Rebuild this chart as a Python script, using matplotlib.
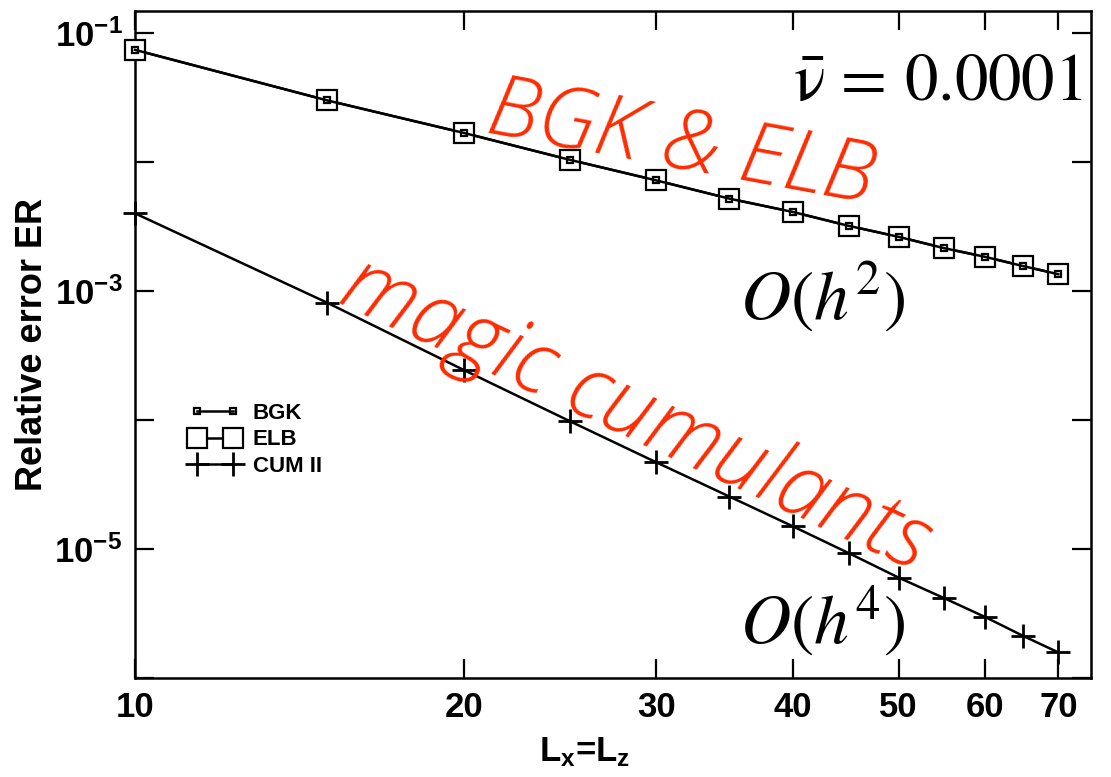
"""
Relative error vs grid size for BGK, ELB and cumulant LBM (log-log).
"""

import matplotlib
matplotlib.use('Agg')
import matplotlib.pyplot as plt

# grid sizes L_x = L_z
grid = [10, 15, 20, 25, 30, 35, 40, 45, 50, 55, 60, 65, 70]

# relative error ER
err_bgk = [0.074, 0.030, 0.0168, 0.0104, 0.0072, 0.0052, 0.0041,
           0.0032, 0.00263, 0.00215, 0.00184, 0.00156, 0.00135]
err_elb = [0.074, 0.030, 0.0168, 0.0104, 0.0072, 0.0052, 0.0041,
           0.0032, 0.00263, 0.00215, 0.00184, 0.00156, 0.00135]
err_cum = [4.0e-3, 8.1e-4, 2.44e-4, 9.8e-5, 4.7e-5, 2.55e-5, 1.5e-5,
           9.3e-6, 6.0e-6, 4.17e-6, 2.97e-6, 2.12e-6, 1.58e-6]

xticks = [10, 20, 30, 40, 50, 60, 70]
yticks = [1e-6, 1e-5, 1e-4, 1e-3, 1e-2, 1e-1]
ytick_labels = ['', r'$10^{-5}$', '', r'$10^{-3}$', '', r'$10^{-1}$']

plt.rcParams['font.family'] = ['Liberation Sans', 'DejaVu Sans']
plt.rcParams['mathtext.fontset'] = 'custom'
plt.rcParams['mathtext.rm'] = 'Liberation Sans:bold'
plt.rcParams['mathtext.bf'] = 'Liberation Sans:bold'
plt.rcParams['mathtext.it'] = 'Liberation Sans:bold:italic'

RED = '#ff2a00'

fig = plt.figure(figsize=(11.11, 7.77), dpi=100)
ax = fig.add_axes([0.1215, 0.1274, 0.8605, 0.8584])

ax.set_xscale('log')
ax.set_yscale('log')

# ELB big white squares under the small BGK squares
ax.plot(grid, err_elb, color='black', lw=1.8, marker='s', ms=14,
        mfc='white', mec='black', mew=1.6, zorder=3, label='ELB',
        clip_on=False)
ax.plot(grid, err_bgk, color='black', lw=1.8, marker='s', ms=4.5,
        mfc='none', mec='black', mew=1.6, zorder=4, label='BGK',
        clip_on=False)
ax.plot(grid, err_cum, color='black', lw=1.8, marker='+', ms=17,
        mew=2.0, zorder=3, label='CUM II', clip_on=False)

ax.set_xlim(10, 75)
ax.set_ylim(1e-6, 0.148)

ax.set_xticks(xticks)
ax.set_xticklabels([str(v) for v in xticks], fontweight='bold')
ax.set_yticks(yticks)
ax.set_yticklabels(ytick_labels)
ax.minorticks_off()
ax.tick_params(which='major', direction='in', length=14, width=1.6,
               top=True, right=True, labelsize=25, pad=9)
for s in ax.spines.values():
    s.set_linewidth(1.8)

ax.set_ylabel('Relative error ER', fontsize=26, fontweight='bold')
ax.yaxis.set_label_coords(-0.089, 0.5)
ax.set_xlabel(r'L$_\mathregular{x}$=L$_\mathregular{z}$', fontsize=25,
              fontweight='bold')
ax.xaxis.set_label_coords(0.47, -0.086)

handles, labels = ax.get_legend_handles_labels()
order = [1, 0, 2]
ax.legend([handles[i] for i in order], [labels[i] for i in order],
          loc='center left', bbox_to_anchor=(0.058, 0.357), frameon=False,
          handlelength=2.2, handletextpad=0.6, labelspacing=0.25,
          borderpad=0, borderaxespad=0, numpoints=2,
          prop={'weight': 'bold', 'size': 16})

# annotations
ax.text(0.9906, 0.8666, r'$\bar{\mathrm{ν}}\,=\,0.0001$', transform=ax.transAxes,
        ha='right', va='baseline', fontsize=48, math_fontfamily='stix')
ax.text(0.633, 0.537, r'$O(h^2)$', transform=ax.transAxes,
        ha='left', va='baseline', fontsize=50, math_fontfamily='stix')
ax.text(0.633, 0.0525, r'$O(h^4)$', transform=ax.transAxes,
        ha='left', va='baseline', fontsize=50, math_fontfamily='stix')

ax.text(0.571, 0.797, 'BGK & ELB', transform=ax.transAxes, color=RED,
        ha='center', va='center', rotation=-10.5, rotation_mode='anchor',
        fontsize=62, family='Open Sans', style='italic', weight='light')
ax.text(0.523, 0.394, 'magic cumulants', transform=ax.transAxes, color=RED,
        ha='center', va='center', rotation=-25, rotation_mode='anchor',
        fontsize=63, family='Open Sans', style='italic', weight='light')

plt.savefig('out.png', dpi=100)
plt.close()
